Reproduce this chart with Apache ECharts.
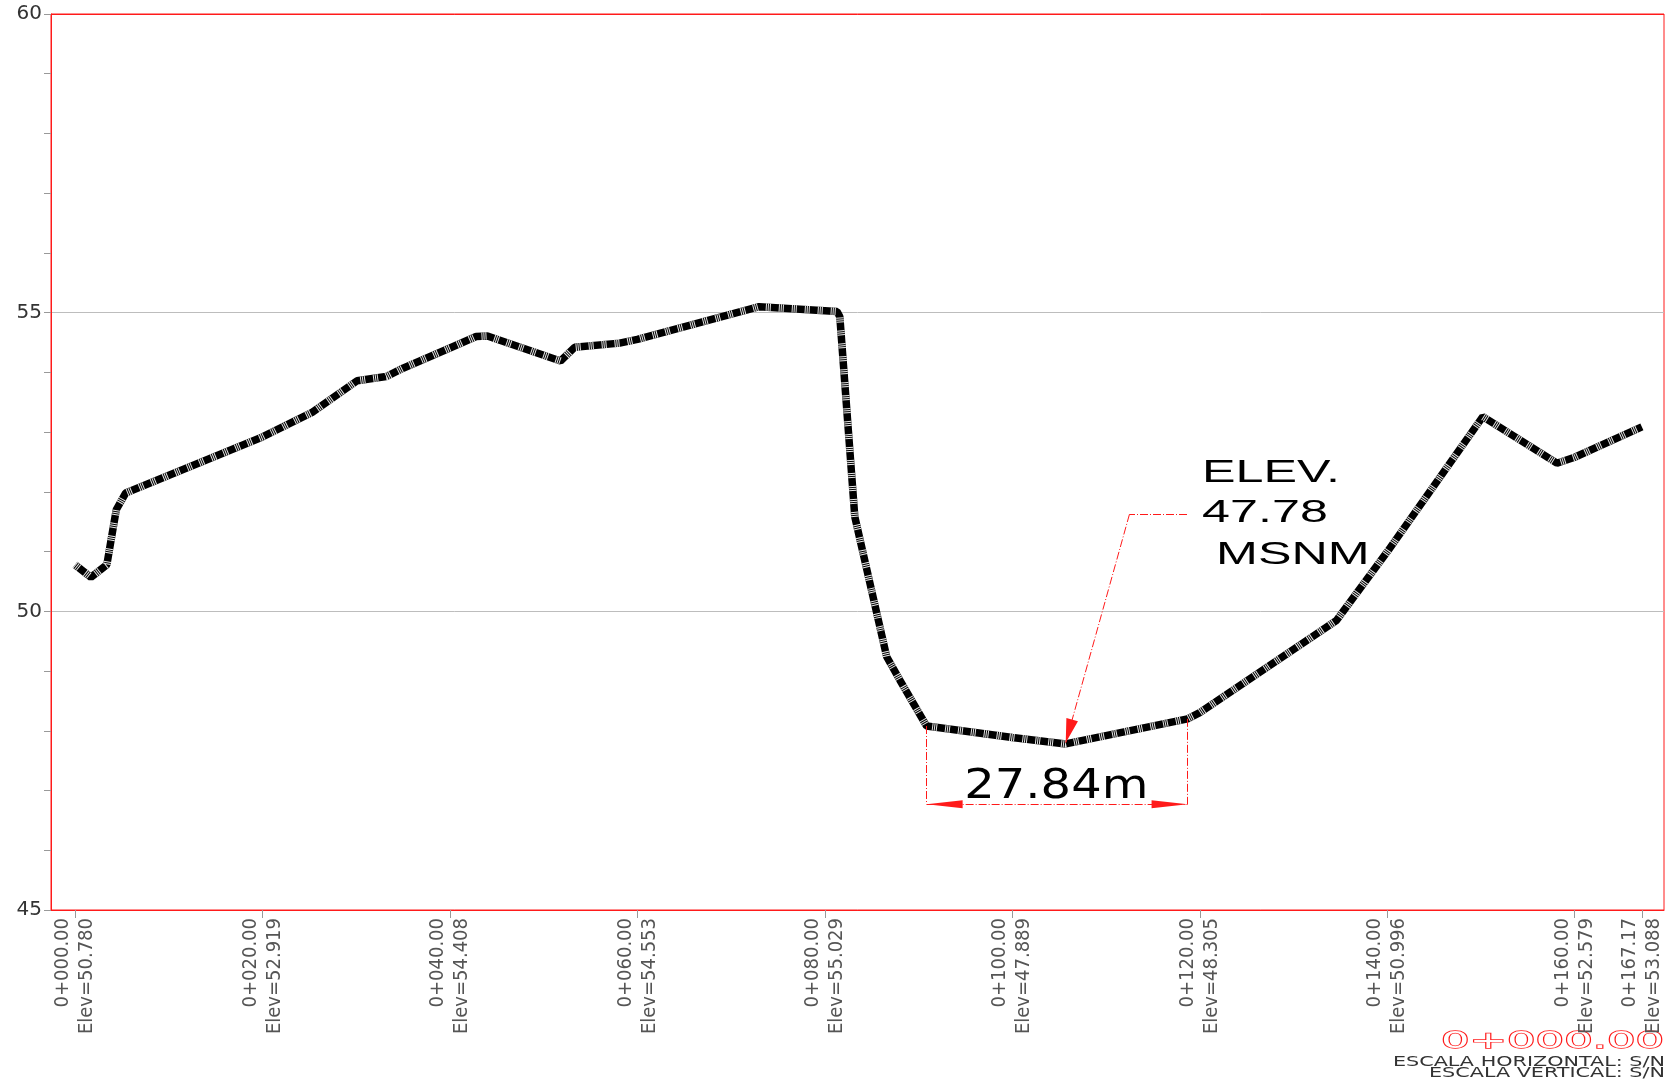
<!DOCTYPE html>
<html>
<head>
<meta charset="utf-8">
<title>Perfil</title>
<script src="https://cdn.jsdelivr.net/npm/echarts@6/dist/echarts.min.js"></script>
<style>
html, body { margin: 0; padding: 0; background: #fff; }
#chart { width: 1666px; height: 1084px; }
</style>
</head>
<body>
<div id="chart"></div>
<script>
// perfil del terreno: estacion (m) / elevacion (msnm)
const profileStation = [0, 1.7, 3.4, 4.4, 5.4, 20, 25.3, 30.1, 33.2, 35.0, 40, 42.8, 44.0, 51.8, 53.3, 58.1, 60, 73.0, 81.3, 81.6, 83.2, 86.6, 88.0, 90.86, 100, 105.7, 118.7, 120, 134.6, 140, 150.2, 158.1, 160, 167.17]
const profileElev = [50.78, 50.57, 50.78, 51.70, 51.98, 52.919, 53.33, 53.86, 53.93, 54.07, 54.408, 54.60, 54.61, 54.19, 54.42, 54.49, 54.553, 55.10, 55.02, 54.93, 51.58, 49.24, 48.85, 48.08, 47.889, 47.78, 48.20, 48.305, 49.85, 50.996, 53.26, 52.48, 52.579, 53.088]

const tickStations = [0, 20, 40, 60, 80, 100, 120, 140, 160, 167.17]
const tickStationText = ['0+000.00', '0+020.00', '0+040.00', '0+060.00', '0+080.00', '0+100.00', '0+120.00', '0+140.00', '0+160.00', '0+167.17']
const tickElevText = ['Elev=50.780', 'Elev=52.919', 'Elev=54.408', 'Elev=54.553', 'Elev=55.029', 'Elev=47.889', 'Elev=48.305', 'Elev=50.996', 'Elev=52.579', 'Elev=53.088']

// cota 27.84m
const dimFrom = [90.86, 48.08]
const dimTo = [118.7, 48.20]
const dimLevel = 46.77
const dimText = '27.84m'
const dimTextAt = [104.7, 47.06]

// nota ELEV. 47.78 MSNM
const minPoint = [105.7, 47.80]
const leaderKnee = [112.5, 51.625]
const leaderStart = [118.64, 51.625]
const noteLines = ['ELEV.', '47.78', ' MSNM']
const noteAt = [[120.25, 52.32], [120.25, 51.65], [120.25, 50.94]]

const footerTitle = '0+000.00'
const footerLines = ['ESCALA HORIZONTAL: S/N', 'ESCALA VERTICAL: S/N']

const RED = '#ff1a1a'
const dashDot = [8, 2, 1, 2]
const arrowPath = 'path://M0,-36L0.01,-36L0,-36Z M0,0L4.5,36L-4.5,36Z'

let profile = profileStation.map((s, i) => [s, profileElev[i]])

let chart = echarts.init(document.getElementById('chart'), null, {renderer: 'canvas'})

let option = {
    animation: false,
    backgroundColor: '#fff',
    grid: {
        left: 51, right: 2, top: 14, bottom: 174,
        show: true, borderColor: RED, borderWidth: 1,
        outerBoundsMode: 'none'
    },
    xAxis: {
        type: 'value',
        min: -2.56,
        max: 169.53,
        axisLine: {show: true, onZero: false, lineStyle: {color: RED, width: 1}},
        axisTick: {show: true, length: 8, customValues: tickStations, lineStyle: {color: '#999'}},
        splitLine: {show: false},
        axisLabel: {
            customValues: tickStations,
            rotate: 90,
            margin: 8,
            fontSize: 20,
            lineHeight: 24,
            fontFamily: '"DejaVu Sans Condensed", "Liberation Sans Narrow", sans-serif',
            color: '#555',
            formatter: (v) => {
                let i = tickStations.findIndex(t => Math.abs(t - v) < 0.01)
                return i < 0 ? '' : tickStationText[i] + '\n' + tickElevText[i]
            }
        }
    },
    yAxis: {
        type: 'value',
        min: 45,
        max: 60,
        interval: 5,
        axisLine: {show: true, onZero: false, lineStyle: {color: RED, width: 1}},
        axisTick: {show: true, length: 7, lineStyle: {color: '#999'}},
        minorTick: {show: true, splitNumber: 5, length: 7, lineStyle: {color: '#999'}},
        splitLine: {show: true, lineStyle: {color: [RED, '#bdbdbd', '#bdbdbd', RED], width: 1}},
        axisLabel: {margin: 9, fontSize: 20, fontFamily: '"DejaVu Sans", sans-serif', color: '#333'}
    },
    series: [
        {
            name: 'terreno',
            type: 'line',
            data: profile,
            symbol: 'none',
            silent: true,
            lineStyle: {color: '#000', width: 7.5, cap: 'butt', join: 'bevel'}
        },
        {
            name: 'trama',
            type: 'line',
            data: profile,
            symbol: 'none',
            silent: true,
            lineStyle: {color: '#e6e6e6', width: 7.5, type: [1, 1, 1, 1, 1, 8], cap: 'butt', join: 'bevel'},
            markLine: {
                silent: true,
                animation: false,
                label: {show: false},
                symbol: ['none', 'none'],
                lineStyle: {color: RED, width: 1, type: dashDot},
                data: [
                    [{coord: [dimFrom[0], dimFrom[1]]}, {coord: [dimFrom[0], dimLevel]}],
                    [{coord: [dimTo[0], dimTo[1]]}, {coord: [dimTo[0], dimLevel]}],
                    [
                        {coord: [dimFrom[0], dimLevel], symbol: arrowPath, symbolSize: [8, 72]},
                        {coord: [dimTo[0], dimLevel], symbol: arrowPath, symbolSize: [8, 72]}
                    ],
                    [{coord: leaderStart}, {coord: leaderKnee}],
                    [
                        {coord: leaderKnee},
                        {coord: minPoint, symbol: arrowPath, symbolSize: [12, 48]}
                    ]
                ]
            }
        }
    ]
}

chart.setOption(option)

let px = (p) => chart.convertToPixel({xAxisIndex: 0, yAxisIndex: 0}, p)

let graphics = []

let d = px(dimTextAt)
graphics.push({
    type: 'text', x: d[0], y: d[1], scaleX: 1.17, silent: true,
    style: {text: dimText, x: 0, y: 0, align: 'center', verticalAlign: 'middle',
        font: '41px "DejaVu Sans", sans-serif', fill: '#000'}
})

noteLines.forEach((t, i) => {
    let p = px(noteAt[i])
    graphics.push({
        type: 'text', x: p[0], y: p[1], scaleX: 1.57, silent: true,
        style: {text: t, x: 0, y: 0, align: 'left', verticalAlign: 'middle',
            font: '32px "Liberation Sans", Arial, sans-serif', fill: '#000'}
    })
})

// rotulo inferior derecho
graphics.push({
    type: 'text', x: 1664, y: 1042, scaleX: 1.95, silent: true,
    style: {text: footerTitle, x: 0, y: 0, align: 'right', verticalAlign: 'middle',
        font: '23px "DejaVu Sans", sans-serif', fill: '#fff', stroke: RED, lineWidth: 1.3}
})
footerLines.forEach((t, i) => {
    graphics.push({
        type: 'text', x: 1665, y: 1062 + i * 11, scaleX: 1.48, silent: true,
        style: {text: t, x: 0, y: 0, align: 'right', verticalAlign: 'middle',
            font: '14px "DejaVu Sans", sans-serif', fill: '#333'}
    })
})

chart.setOption({graphic: graphics})
</script>
</body>
</html>
